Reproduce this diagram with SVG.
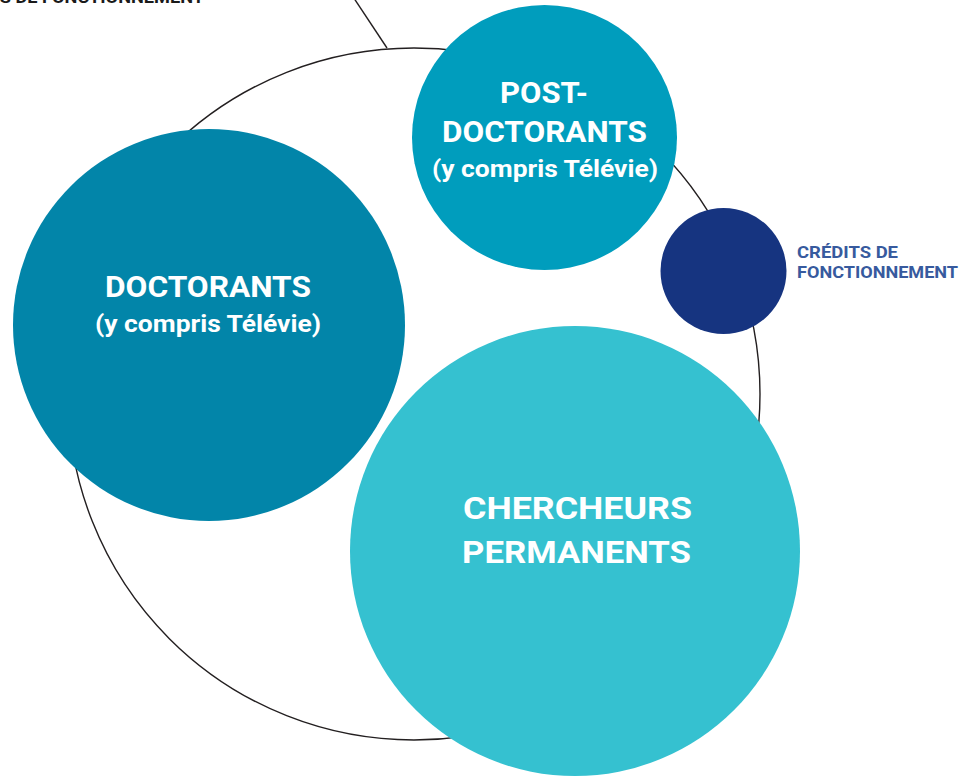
<svg xmlns="http://www.w3.org/2000/svg" width="965" height="776" viewBox="0 0 965 776">
<style>
  .t { font-family: Roboto, "Liberation Sans", Arial, sans-serif; font-weight: 700; text-anchor: middle; fill: #ffffff; }
  .lbl { font-family: Roboto, "Liberation Sans", Arial, sans-serif; font-weight: 700; font-size: 17px; }
  .ring { fill: none; stroke: #231f20; stroke-width: 1.4; }
</style>
<rect width="965" height="776" fill="#ffffff"/>
<g id="outer-ring">
  <circle class="ring" cx="414" cy="394" r="346"/>
</g>
<g id="connectors">
  <line x1="322" y1="-50" x2="387" y2="48" stroke="#231f20" stroke-width="1.4"/>
</g>
<g id="label-top">
  <text class="lbl" x="-62" y="3" fill="#1a1a1a" textLength="266" lengthAdjust="spacingAndGlyphs">CRÉDITS DE FONCTIONNEMENT</text>
</g>
<g id="node-doctorants">
  <circle cx="209" cy="325" r="196" fill="#0285a9"/>
  <text class="t" x="208" y="297" font-size="30" textLength="206" lengthAdjust="spacingAndGlyphs">DOCTORANTS</text>
  <text class="t" x="208" y="332" font-size="23" textLength="226" lengthAdjust="spacingAndGlyphs">(y compris Télévie)</text>
</g>
<g id="node-postdoc">
  <circle cx="544.5" cy="137.5" r="132.5" fill="#009dbd"/>
  <text class="t" x="544" y="103" font-size="30" textLength="88" lengthAdjust="spacingAndGlyphs">POST-</text>
  <text class="t" x="544.5" y="142" font-size="30" textLength="205" lengthAdjust="spacingAndGlyphs">DOCTORANTS</text>
  <text class="t" x="545" y="177" font-size="23" textLength="226" lengthAdjust="spacingAndGlyphs">(y compris Télévie)</text>
</g>
<g id="node-credits">
  <circle cx="723.5" cy="271" r="63" fill="#163480"/>
  <text class="lbl" x="797" y="258" fill="#375a9e" textLength="101" lengthAdjust="spacingAndGlyphs">CRÉDITS DE</text>
  <text class="lbl" x="797" y="278" fill="#375a9e" textLength="161" lengthAdjust="spacingAndGlyphs">FONCTIONNEMENT</text>
</g>
<g id="node-chercheurs">
  <circle cx="575" cy="551" r="225" fill="#35c1d0"/>
  <text class="t" x="577.5" y="519" font-size="32" textLength="229" lengthAdjust="spacingAndGlyphs">CHERCHEURS</text>
  <text class="t" x="576.5" y="563" font-size="32" textLength="229" lengthAdjust="spacingAndGlyphs">PERMANENTS</text>
</g>
</svg>
